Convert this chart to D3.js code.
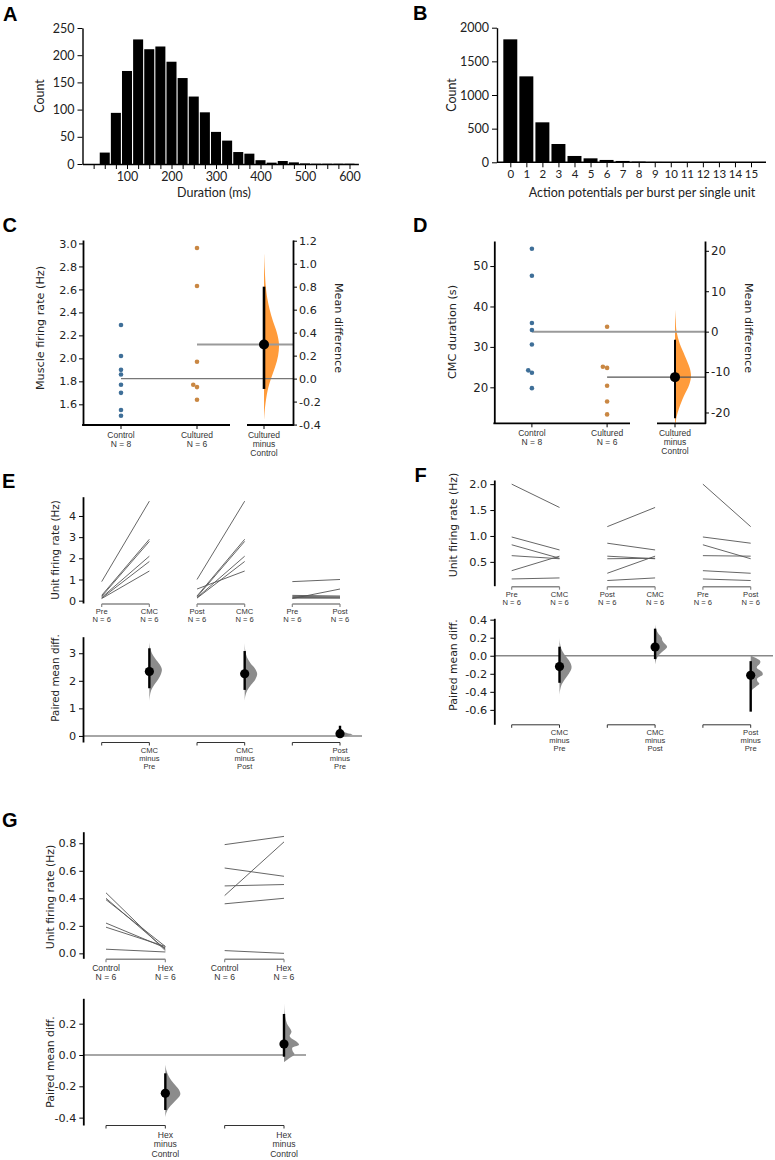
<!DOCTYPE html>
<html><head><meta charset="utf-8">
<script src="https://cdn.jsdelivr.net/npm/d3@7"></script>
<style>body{margin:0;background:#fff} svg{display:block}</style>
</head><body>
<svg id="fig" width="775" height="1160"></svg>
<script>
// ---------------- DATA ----------------
// Panel A
const durationMs = [50,75,100,125,150,175,200,225,250,275,300,325,350,375,400,425,450,475,500,525,550,575,600];
const durationCounts = [21,94,171,229,211,216,188,158,124,95,59,43,22,19,7,2.5,5.5,3,1,0.5,0.5,0.5,0.5];
const durationTickMarks = [25,50,75,100,125,150,175,200,225,250,275,300,325,350,375,400,425,450,475,500,525,550,575,600];
const durationTickLabels = [100,200,300,400,500,600];
const countTicksA = [0,50,100,150,200,250];
// Panel B
const apCategories = [0,1,2,3,4,5,6,7,8,9,10,11,12,13,14,15];
const apCounts = [1827,1277,594,272,94,59,35,20,10,5,4,3,3,2,2,2];
const countTicksB = [0,500,1000,1500,2000];
// Panel C
const cGroups = ["Control","Cultured"];
const cControl = [2.29,2.02,1.90,1.86,1.77,1.70,1.55,1.50];
const cCultured = [2.96,2.63,1.97,1.77,1.75,1.64];
const cDiffCI = [-0.09,0.80];
const cViolin = [[-0.37,0],[-0.25,0.07],[-0.1,0.25],[0.0,0.47],[0.1,0.74],[0.2,0.94],[0.3,1],[0.4,0.86],[0.5,0.6],[0.6,0.38],[0.7,0.22],[0.8,0.12],[0.95,0.05],[1.1,0]];
const cLeftTicks = [1.6,1.8,2.0,2.2,2.4,2.6,2.8,3.0];
const cRightTicks = [-0.4,-0.2,0.0,0.2,0.4,0.6,0.8,1.0,1.2];
// Panel D
const dGroups = ["Control","Cultured"];
const dControl = [54.3,47.6,35.9,34.2,30.6,24.2,23.6,19.8];
const dCultured = [35.0,25.1,24.8,20.4,16.5,13.3];
const dDiffCI = [-21.4,-2.0];
const dViolin = [[5.4,0],[3,0.04],[0,0.1],[-3,0.3],[-6,0.62],[-9,0.92],[-11,1],[-13,0.9],[-16,0.55],[-19,0.25],[-21,0.1],[-22.7,0.04]];
const dLeftTicks = [20,30,40,50];
const dRightTicks = [-20,-10,0,10,20];
// Panel E
const ePre  = [0.9,0.25,0.2,0.15,0.12,0.1];
const eCMC  = [4.7,2.9,2.8,2.1,1.85,1.4];
const ePost = [1.0,0.22,0.18,0.14,0.12,0.55];
const ePairLabels = [["Pre","CMC"],["Post","CMC"],["Pre","Post"]];
const eDiffLabels = [["CMC","minus","Pre"],["CMC","minus","Post"],["Post","minus","Pre"]];
const eCI = [[1.73,3.18],[1.67,3.08],[-0.02,0.37]];
const eViolins = [
  [[1.25,0],[1.45,0.04],[1.65,0.14],[1.85,0.38],[2.05,0.7],[2.25,0.93],[2.42,1],[2.6,0.82],[2.8,0.48],[3.0,0.2],[3.2,0.06],[3.42,0]],
  [[1.25,0],[1.45,0.05],[1.65,0.2],[1.85,0.5],[2.05,0.85],[2.25,1],[2.45,0.82],[2.65,0.45],[2.85,0.18],[3.1,0.05],[3.4,0]],
  [[-0.08,0],[-0.03,0.25],[0.02,0.75],[0.06,1],[0.1,0.6],[0.15,0.25],[0.22,0.08],[0.32,0]]
];
const eTopTicks = [0,1,2,3,4];
const eBotTicks = [0,1,2,3];
// Panel F
const fPre  = [2.0,0.98,0.83,0.62,0.33,0.17];
const fCMC  = [1.55,0.73,0.57,0.56,0.61,0.19];
const fPost = [1.18,0.86,0.56,0.61,0.28,0.14];
const fPairLabels = [["Pre","CMC"],["Post","CMC"],["Pre","Post"]];
const fDiffLabels = [["CMC","minus","Pre"],["CMC","minus","Post"],["Post","minus","Pre"]];
const fCI = [[-0.30,0.10],[-0.037,0.30],[-0.62,-0.06]];
const fViolins = [
  [[0.2,0],[0.14,0.04],[0.08,0.14],[0.02,0.38],[-0.04,0.72],[-0.1,0.97],[-0.14,1],[-0.2,0.78],[-0.26,0.45],[-0.32,0.18],[-0.38,0.05],[-0.44,0]],
  [[0.35,0],[0.3,0.06],[0.25,0.25],[0.2,0.55],[0.17,0.6],[0.14,0.75],[0.1,1],[0.06,0.75],[0.02,0.4],[-0.03,0.13],[-0.1,0]],
  [[0.0,0],[-0.02,0.35],[-0.06,0.8],[-0.09,0.75],[-0.13,0.5],[-0.18,0.95],[-0.21,1],[-0.25,0.55],[-0.28,0.55],[-0.31,0.72],[-0.34,0.45],[-0.38,0.1],[-0.4,0]]
];
const fTopTicks = [0.5,1.0,1.5,2.0];
const fBotTicks = [-0.6,-0.4,-0.2,0.0,0.2,0.4];
// Panel G
const gControlA = [0.44,0.40,0.39,0.22,0.19,0.03];
const gHexA     = [0.02,0.03,0.05,0.04,0.05,0.01];
const gControlB = [0.79,0.42,0.62,0.49,0.36,0.02];
const gHexB     = [0.85,0.81,0.56,0.50,0.40,0.0];
const gPairLabels = [["Control","Hex"],["Control","Hex"]];
const gDiffLabels = [["Hex","minus","Control"],["Hex","minus","Control"]];
const gCI = [[-0.351,-0.117],[-0.011,0.262]];
const gViolins = [
  [[-0.06,0],[-0.1,0.08],[-0.14,0.25],[-0.18,0.55],[-0.22,0.9],[-0.25,1],[-0.28,0.8],[-0.31,0.5],[-0.34,0.22],[-0.37,0.06],[-0.4,0]],
  [[0.33,0],[0.26,0.05],[0.2,0.2],[0.15,0.5],[0.12,0.38],[0.08,0.9],[0.065,1],[0.045,0.55],[0.02,0.6],[0.005,0.7],[-0.02,0.35],[-0.045,0]]
];
const gTopTicks = [0.0,0.2,0.4,0.6,0.8];
const gBotTicks = [-0.4,-0.2,0.0,0.2];

// ---------------- DRAWING ----------------
const svg = d3.select("#fig");
const FONT_T = "'DejaVu Sans', sans-serif";
const FONT_S = "'Liberation Sans', Arial, sans-serif";
const FONT_L = "Lato, sans-serif";
const loc = d3.formatLocale({decimal: ".", thousands: "", grouping: [3], currency: ["", ""], minus: "-"});
const fmt = s => loc.format(s);

function styleAxis(sel, font, size, lw){
  sel.attr("font-family", null).attr("font-size", null);
  sel.selectAll("text").attr("font-family", font).attr("font-size", size).attr("fill", "#222");
  sel.select(".domain").attr("stroke", "#000").attr("stroke-width", lw || 1.4);
  sel.selectAll(".tick line").attr("stroke", "#000").attr("stroke-width", 1);
}
function letter(t, x, y){
  svg.append("text").attr("x", x).attr("y", y).attr("font-family", FONT_S)
    .attr("font-weight", "bold").attr("font-size", 20).attr("fill", "#000").text(t);
}
function title(t, x, y, size, font, rot){
  svg.append("text").attr("transform", `translate(${x},${y}) rotate(${rot})`)
    .attr("text-anchor", "middle").attr("dominant-baseline", "central")
    .attr("font-family", font).attr("font-size", size).attr("fill", "#222").text(t);
}
function multiLabel(g, x, y0, lines, size, lh){
  const t = g.append("text").attr("text-anchor", "middle").attr("font-family", FONT_S)
    .attr("font-size", size).attr("fill", "#333");
  lines.forEach((l, i) => t.append("tspan").attr("x", x).attr("y", y0 + i * lh).text(l));
}
function hline(g, x1, x2, y, color, w){
  g.append("line").attr("x1", x1).attr("x2", x2).attr("y1", y).attr("y2", y)
    .attr("stroke", color).attr("stroke-width", w);
}
function vline(g, x, y1, y2, color, w){
  g.append("line").attr("x1", x).attr("x2", x).attr("y1", y1).attr("y2", y2)
    .attr("stroke", color).attr("stroke-width", w);
}

// ===== Panel A =====
(function(){
  letter("A", 3, 20.5);
  const x = d3.scaleLinear().domain([0, 620]).range([82.5, 358.4]);
  const y = d3.scaleLinear().domain([0, 250]).range([164, 28]);
  const g = svg.append("g");
  const bw = x(22.5) - x(0);
  g.selectAll("rect").data(durationMs).join("rect")
    .attr("x", d => x(d) - bw / 2).attr("width", bw)
    .attr("y", (d, i) => y(durationCounts[i]))
    .attr("height", (d, i) => y(0) - y(durationCounts[i])).attr("fill", "#000");
  const xa = g.append("g").attr("transform", "translate(0,164)")
    .call(d3.axisBottom(x).tickValues(durationTickMarks).tickSize(5).tickPadding(3).tickSizeOuter(0)
      .tickFormat(d => durationTickLabels.includes(d) ? d : ""));
  styleAxis(xa, FONT_L, 12.5);
  const ya = g.append("g").attr("transform", "translate(82.5,0)")
    .call(d3.axisLeft(y).tickValues(countTicksA).tickSize(5).tickPadding(3).tickSizeOuter(0).tickFormat(fmt("d")));
  styleAxis(ya, FONT_L, 12.5);
  title("Count", 39.5, 96, 12.5, FONT_L, -90);
  svg.append("text").attr("x", 214).attr("y", 197).attr("text-anchor", "middle")
    .attr("font-family", FONT_L).attr("font-size", 12.5).attr("fill", "#222").text("Duration (ms)");
})();

// ===== Panel B =====
(function(){
  letter("B", 413, 20);
  const x = d3.scaleLinear().domain([0, 15]).range([510.3, 751]);
  const y = d3.scaleLinear().domain([0, 2000]).range([162.3, 27.7]);
  const g = svg.append("g");
  const bw = (x(1) - x(0)) * 0.87;
  g.selectAll("rect").data(apCategories).join("rect")
    .attr("x", d => x(d) - bw / 2).attr("width", bw)
    .attr("y", (d, i) => y(apCounts[i]))
    .attr("height", (d, i) => y(0) - y(apCounts[i])).attr("fill", "#000");
  const xa = g.append("g").attr("transform", "translate(0,162.3)")
    .call(d3.axisBottom(x).tickValues(apCategories).tickSize(5).tickPadding(3).tickSizeOuter(0).tickFormat(fmt("d")));
  styleAxis(xa, FONT_L, 11.5);
  xa.select(".domain").remove();
  hline(g, 497, 766, 162.3, "#000", 1.4);
  const ya = g.append("g").attr("transform", "translate(497,0)")
    .call(d3.axisLeft(y).tickValues(countTicksB).tickSize(5).tickPadding(3).tickSizeOuter(0).tickFormat(fmt("d")));
  styleAxis(ya, FONT_L, 12.5);
  title("Count", 451.5, 95, 12.5, FONT_L, -90);
  svg.append("text").attr("x", 642).attr("y", 197).attr("text-anchor", "middle")
    .attr("font-family", FONT_L).attr("font-size", 12.5).attr("fill", "#222").text("Action potentials per burst per single unit");
})();

// ===== Estimation plots (C, D) =====
function swarm(vals, y, cx, r){
  const sorted = vals.slice().sort((a, b) => a - b);
  const placed = [];
  sorted.forEach(v => {
    const py = y(v); let dx = 0;
    placed.forEach(q => {
      const dy = Math.abs(q.y - py);
      if (dy < 2 * r && Math.abs(q.dx - dx) < 0.01) dx = q.dx - Math.sqrt(4 * r * r - dy * dy);
    });
    placed.push({y: py, dx});
  });
  return placed.map(p => ({x: cx + p.dx, y: p.y}));
}
function estimation(cfg){
  letter(cfg.letter, cfg.letterX, cfg.letterY);
  const g = svg.append("g");
  const yL = d3.scaleLinear().domain(cfg.yDomain).range(cfg.yRange);
  const means = cfg.values.map(v => d3.mean(v));
  const yR = d3.scaleLinear().domain([cfg.yDomain[0] - means[0], cfg.yDomain[1] - means[0]]).range(cfg.yRange);
  const xg = d3.scalePoint().domain(cfg.groups).range(cfg.groupRange).padding(0.5);
  // violin
  const area = d3.area().curve(d3.curveCatmullRom)
    .y(d => yR(d[0])).x0(cfg.deltaX).x1(d => cfg.deltaX + d[1] * cfg.violinW);
  g.append("path").datum(cfg.violin).attr("d", area).attr("fill", "#ff9b3a");
  // mean lines
  cfg.groups.forEach((grp, i) => hline(g, xg(grp), cfg.rightX, yL(means[i]), cfg.meanColors[i], cfg.meanWidths[i]));
  // CI and effect size
  const diff = means[1] - means[0];
  vline(g, cfg.deltaX, yR(cfg.ci[0]), yR(cfg.ci[1]), "#000", cfg.ciW);
  g.append("circle").attr("cx", cfg.deltaX).attr("cy", yR(diff)).attr("r", 5).attr("fill", "#000");
  // swarms
  cfg.groups.forEach((grp, i) => {
    g.append("g").selectAll("circle").data(swarm(cfg.values[i], yL, xg(grp), 2.2)).join("circle")
      .attr("cx", d => d.x).attr("cy", d => d.y).attr("r", 2.3).attr("fill", cfg.colors[i]);
  });
  // axes
  const la = g.append("g").attr("transform", `translate(${cfg.leftX},0)`)
    .call(d3.axisLeft(yL).tickValues(cfg.leftTicks).tickSize(4).tickPadding(2).tickSizeOuter(0).tickFormat(fmt(cfg.fmtL)));
  styleAxis(la, FONT_T, cfg.tickFont, 1.8);
  const ra = g.append("g").attr("transform", `translate(${cfg.rightX},0)`)
    .call(d3.axisRight(yR).tickValues(cfg.rightTicks).tickSize(4).tickPadding(2).tickSizeOuter(0).tickFormat(fmt(cfg.fmtR)));
  styleAxis(ra, FONT_T, cfg.tickFont, 1.8);
  const by = cfg.yRange[0];
  hline(g, cfg.leftX - 0.9, cfg.seg1End, by, "#000", 1.8);
  hline(g, cfg.seg2[0], cfg.rightX + 0.9, by, "#000", 1.8);
  cfg.groups.forEach((grp, i) => {
    vline(g, xg(grp), by, by + 4, "#000", 1);
    multiLabel(g, xg(grp), cfg.labelY, [grp, "N = " + cfg.values[i].length], 8.5, 9.2);
  });
  vline(g, cfg.deltaX, by, by + 4, "#000", 1);
  multiLabel(g, cfg.deltaX, cfg.labelY, [cfg.groups[1], "minus", cfg.groups[0]], 8.5, 9.2);
  title(cfg.leftTitle, cfg.leftTitleX, cfg.titleY, cfg.titleFont, FONT_T, -90);
  title("Mean difference", cfg.rightTitleX, cfg.rightTitleY, cfg.titleFont, FONT_T, 90);
}
estimation({
  letter: "C", letterX: 2.5, letterY: 232.3,
  groups: cGroups, values: [cControl, cCultured], colors: ["#3f6f98", "#c98743"],
  yDomain: [1.42, 3.03], yRange: [425, 240], groupRange: [83, 235],
  leftX: 83, seg1End: 230, seg2: [247, 293], deltaX: 264, rightX: 293,
  ci: cDiffCI, ciW: 2.6, violin: cViolin, violinW: 15,
  meanColors: ["#777", "#9a9a9a"], meanWidths: [1.3, 2],
  leftTicks: cLeftTicks, rightTicks: cRightTicks, fmtL: ".1f", fmtR: ".1f",
  tickFont: 11.2, titleFont: 11.2, labelY: 437.5,
  leftTitle: "Muscle firing rate (Hz)", leftTitleX: 40, titleY: 328,
  rightTitleX: 338, rightTitleY: 328
});
estimation({
  letter: "D", letterX: 413, letterY: 232.3,
  groups: dGroups, values: [dControl, dCultured], colors: ["#3f6f98", "#c98743"],
  yDomain: [11.1, 56.2], yRange: [423.3, 241], groupRange: [494.3, 644.7],
  leftX: 494.3, seg1End: 630, seg2: [657, 705], deltaX: 675, rightX: 705,
  ci: dDiffCI, ciW: 2, violin: dViolin, violinW: 16,
  meanColors: ["#9a9a9a", "#555"], meanWidths: [2, 1.2],
  leftTicks: dLeftTicks, rightTicks: dRightTicks, fmtL: "d", fmtR: "d",
  tickFont: 11.8, titleFont: 11.2, labelY: 435.7,
  leftTitle: "CMC duration (s)", leftTitleX: 452, titleY: 332,
  rightTitleX: 748, rightTitleY: 328
});

// ===== Paired plots (E, F, G) =====
function paired(cfg){
  letter(cfg.letter, cfg.letterX, cfg.letterY);
  const g = svg.append("g");
  const x = d3.scaleLinear().domain([0, cfg.pairs.length * 2 - 1]).range(cfg.xRange);
  const yT = d3.scaleLinear().domain(cfg.topDomain).range(cfg.topRange);
  const yB = d3.scaleLinear().domain(cfg.botDomain).range(cfg.botRange);
  // top: slopegraphs
  cfg.pairs.forEach((p, k) => {
    const x0 = x(2 * k), x1 = x(2 * k + 1);
    g.append("g").selectAll("line").data(p.a).join("line")
      .attr("x1", x0).attr("x2", x1)
      .attr("y1", d => yT(d)).attr("y2", (d, i) => yT(p.b[i]))
      .attr("stroke", "#555").attr("stroke-width", 0.9);
    const by = cfg.topRange[0] + 1;
    hline(g, x0, x1, by, "#888", 1.6);
    vline(g, x0, by, by + 3, "#888", 1.2);
    vline(g, x1, by, by + 3, "#888", 1.2);
    multiLabel(g, x0, by + cfg.topLabelDy, [cfg.pairLabels[k][0], "N = " + p.a.length], cfg.smallFont, cfg.lh);
    multiLabel(g, x1, by + cfg.topLabelDy, [cfg.pairLabels[k][1], "N = " + p.b.length], cfg.smallFont, cfg.lh);
  });
  const ta = g.append("g").attr("transform", `translate(${cfg.axisX},0)`)
    .call(d3.axisLeft(yT).tickValues(cfg.topTicks).tickSize(4).tickPadding(3).tickSizeOuter(0).tickFormat(fmt(cfg.fmt)));
  styleAxis(ta, FONT_T, cfg.tickFont, 1.8);
  // bottom: paired mean differences
  hline(g, cfg.axisX, cfg.zeroEnd, yB(0), "#888", 1.5);
  const area = d3.area().curve(d3.curveCatmullRom);
  cfg.pairs.forEach((p, k) => {
    const xd = x(2 * k + 1);
    const diff = d3.mean(p.a.map((v, i) => p.b[i] - v));
    area.y(d => yB(d[0])).x0(xd).x1(d => xd + d[1] * cfg.violinW);
    g.append("path").datum(cfg.violins[k]).attr("d", area).attr("fill", "#8c8c8c");
    vline(g, xd, yB(cfg.ci[k][0]), yB(cfg.ci[k][1]), "#000", 2.4);
    g.append("circle").attr("cx", xd).attr("cy", yB(diff)).attr("r", 4.6).attr("fill", "#000");
    const by = cfg.botRange[0] + 0.5;
    const x0 = x(2 * k);
    hline(g, x0, xd, by, "#333", 1);
    vline(g, x0, by, by + 3, "#333", 1);
    vline(g, xd, by, by + 3, "#333", 1);
    multiLabel(g, xd, by + cfg.botLabelDy, cfg.diffLabels[k], cfg.smallFont, cfg.lh);
  });
  const ba = g.append("g").attr("transform", `translate(${cfg.axisX},0)`)
    .call(d3.axisLeft(yB).tickValues(cfg.botTicks).tickSize(4).tickPadding(3).tickSizeOuter(0).tickFormat(fmt(cfg.fmt)));
  styleAxis(ba, FONT_T, cfg.tickFont, 1.8);
  title("Unit firing rate (Hz)", cfg.titleX, cfg.topTitleY, cfg.titleFont, FONT_T, -90);
  title("Paired mean diff.", cfg.titleX, cfg.botTitleY, cfg.titleFont, FONT_T, -90);
}
paired({
  letter: "E", letterX: 2, letterY: 487.5,
  pairs: [{a: ePre, b: eCMC}, {a: ePost, b: eCMC}, {a: ePre, b: ePost}],
  pairLabels: ePairLabels, diffLabels: eDiffLabels, ci: eCI, violins: eViolins, violinW: 12.5,
  xRange: [101.7, 340], axisX: 83,
  topDomain: [-0.11, 4.91], topRange: [603, 496.7], topTicks: eTopTicks,
  botDomain: [-0.22, 3.6], botRange: [742, 636.7], botTicks: eBotTicks, zeroEnd: 362,
  fmt: "d", tickFont: 11.2, titleFont: 10.3, smallFont: 7.6, lh: 8.3,
  topLabelDy: 10, botLabelDy: 10,
  titleX: 55, topTitleY: 550, botTitleY: 678
});
paired({
  letter: "F", letterX: 414.5, letterY: 482.3,
  pairs: [{a: fPre, b: fCMC}, {a: fPost, b: fCMC}, {a: fPre, b: fPost}],
  pairLabels: fPairLabels, diffLabels: fDiffLabels, ci: fCI, violins: fViolins, violinW: 12,
  xRange: [511.7, 750.7], axisX: 494.3,
  topDomain: [0.04, 2.08], topRange: [585.7, 480], topTicks: fTopTicks,
  botDomain: [-0.76, 0.415], botRange: [724.3, 618.3], botTicks: fBotTicks, zeroEnd: 773,
  fmt: ".1f", tickFont: 11.3, titleFont: 10.8, smallFont: 7.6, lh: 8.3,
  topLabelDy: 9.8, botLabelDy: 9.8,
  titleX: 453.3, topTitleY: 525, botTitleY: 665
});
paired({
  letter: "G", letterX: 2, letterY: 826.7,
  pairs: [{a: gControlA, b: gHexA}, {a: gControlB, b: gHexB}],
  pairLabels: gPairLabels, diffLabels: gDiffLabels, ci: gCI, violins: gViolins, violinW: 15,
  xRange: [106, 284], axisX: 83.3,
  topDomain: [-0.036, 0.884], topRange: [958.3, 831.7], topTicks: gTopTicks,
  botDomain: [-0.447, 0.362], botRange: [1125, 998.3], botTicks: gBotTicks, zeroEnd: 306,
  fmt: ".1f", tickFont: 11.2, titleFont: 10.8, smallFont: 8.6, lh: 9.5,
  topLabelDy: 11.5, botLabelDy: 12.3,
  titleX: 50, topTitleY: 897, botTitleY: 1062
});
</script>
</body></html>
